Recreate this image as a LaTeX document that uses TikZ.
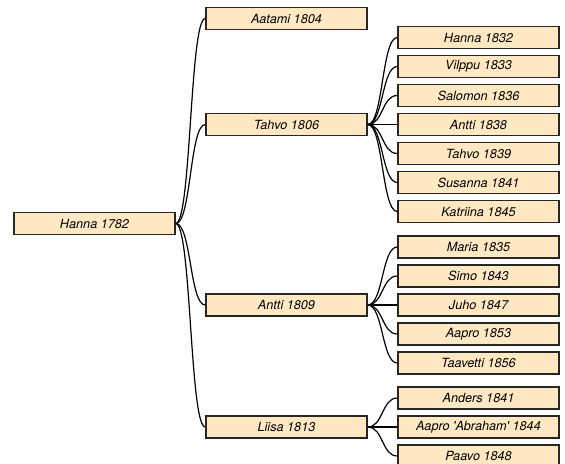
\documentclass[tikz,border=0pt]{standalone}
\usepackage{fontspec}
\newfontfamily\personfont{TeX Gyre Heros}
\usepackage{tikz}
\definecolor{boxfill}{HTML}{FFE8C2}

\begin{document}
\begin{tikzpicture}
[x=0.75pt,y=-0.75pt,
 personDecorate/.style={shape=rectangle,draw=black!85,line width=1.1pt,fill=boxfill,
   minimum width=161*0.75pt,minimum height=22*0.75pt,inner sep=0pt,
   font=\personfont\itshape\fontsize{9.5}{11}\selectfont}]
\useasboundingbox (0,0) rectangle (565,464);
%% nodes or persons
\foreach \nodename/\x/\y/\name in {
  hanna1782/94.5/223.5/{Hanna 1782},
  aatami1804/286.5/18.5/{Aatami 1804}, tahvo1806/286.5/124.5/{Tahvo 1806},
  antti1809/286.5/305/{Antti 1809}, liisa1813/286.5/427/{Liisa 1813},
  hanna1832/478.5/37.5/{Hanna 1832}, vilppu1833/478.5/66.5/{Vilppu 1833},
  salomon1836/478.5/95.5/{Salomon 1836}, antti1838/478.5/124.5/{Antti 1838},
  tahvo1839/478.5/153.5/{Tahvo 1839}, susanna1841/478.5/182.5/{Susanna 1841},
  katriina1845/478.5/211.5/{Katriina 1845},
  maria1835/478.5/247/{Maria 1835}, simo1843/478.5/276/{Simo 1843},
  juho1847/478.5/305/{Juho 1847}, aapro1853/478.5/334/{Aapro 1853},
  taavetti1856/478.5/363/{Taavetti 1856},
  anders1841/478.5/398/{Anders 1841},
  aapro1844/478.5/427/{Aapro \textquotesingle Abraham\textquotesingle\ 1844},
  paavo1848/478.5/456/{Paavo 1848}}
{
  \node (\nodename) at (\x,\y) [personDecorate] {\name};
}
%% edges or lines
\tikzstyle{EdgeStyle}=[draw=black,line width=0.9pt]
\foreach \startnode/\endnode in {
  hanna1782/aatami1804, hanna1782/tahvo1806, hanna1782/antti1809, hanna1782/liisa1813,
  tahvo1806/hanna1832, tahvo1806/vilppu1833, tahvo1806/salomon1836, tahvo1806/antti1838,
  tahvo1806/tahvo1839, tahvo1806/susanna1841, tahvo1806/katriina1845,
  antti1809/maria1835, antti1809/simo1843, antti1809/juho1847, antti1809/aapro1853,
  antti1809/taavetti1856,
  liisa1813/anders1841, liisa1813/aapro1844, liisa1813/paavo1848}
{
  \draw[EdgeStyle] (\startnode.east) .. controls +(15.5,0) and +(-15.5,0) .. (\endnode.west);
}
\end{tikzpicture}
\end{document}
